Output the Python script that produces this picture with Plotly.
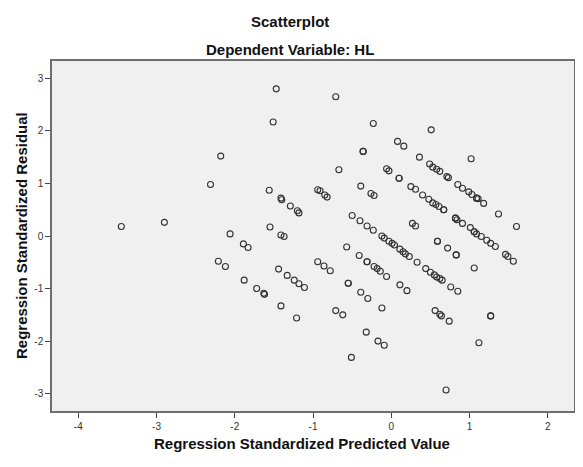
import plotly.graph_objects as go

# standardized predicted value / standardized residual
pred = [-3.45, -2.90, -2.31, -2.18, -2.06, -1.89, -1.83, -2.21, -2.12, -1.88,
        -1.47, -0.71, -1.51, -0.23, 0.08, -0.36, -0.36, -0.67, -0.06, -0.03, 0.10, 0.10,
        -1.56, -1.41, -1.40, -1.29, -1.20, -1.18, -0.94, -0.91, -0.85, -0.82,
        -0.39, -0.26, -0.22, -1.55, -1.41, -1.37, -0.50, -0.40, -0.31, -0.23,
        -0.12, -0.09, -0.03, 0.01, 0.04,
        -1.44, -1.33, -1.24, -1.18, -1.11, -1.72, -1.63, -1.62, -1.41, -1.21,
        -0.94, -0.86, -0.78, -0.57, -0.41, -0.31, -0.31, -0.22, -0.18, -0.14, -0.06,
        -0.55, -0.55, -0.39, -0.30, -0.12, -0.71, -0.62, -0.32, -0.17, -0.09, -0.51,
        0.11, 0.15, 0.18, 0.23, 0.33, 0.44, 0.50, 0.55, 0.58, 0.62, 0.65, 0.76, 0.85,
        0.11, 0.20,
        0.51, 0.16, 0.36, 1.02, 0.49, 0.53, 0.58, 0.62, 0.71, 0.73,
        0.85, 0.91, 0.99, 1.03, 1.09, 1.09, 1.11, 1.18, 1.37, 1.60,
        0.25, 0.31, 0.40, 0.48, 0.53, 0.57, 0.61, 0.67, 0.67,
        0.82, 0.82, 0.84, 0.91, 1.01, 1.06, 1.06, 1.09, 1.15, 1.22, 1.27, 1.33,
        0.27, 0.31, 1.46, 1.49, 1.56, 0.59, 0.59, 0.72, 0.83, 0.83, 1.06,
        0.56, 0.62, 0.64, 0.74, 1.27, 1.27, 1.12, 0.70]
resid = [0.18, 0.26, 0.98, 1.52, 0.04, -0.15, -0.22, -0.48, -0.58, -0.84,
         2.80, 2.65, 2.17, 2.14, 1.80, 1.61, 1.61, 1.26, 1.28, 1.24, 1.10, 1.10,
         0.87, 0.72, 0.69, 0.57, 0.48, 0.44, 0.88, 0.86, 0.78, 0.74,
         0.95, 0.81, 0.77, 0.17, 0.02, -0.01, 0.39, 0.29, 0.19, 0.11,
         0.00, -0.04, -0.10, -0.14, -0.17,
         -0.63, -0.75, -0.84, -0.91, -0.98, -1.00, -1.09, -1.11, -1.33, -1.56,
         -0.49, -0.57, -0.66, -0.21, -0.37, -0.49, -0.49, -0.58, -0.62, -0.67, -0.77,
         -0.90, -0.90, -1.07, -1.19, -1.37, -1.42, -1.50, -1.83, -2.00, -2.08, -2.31,
         -0.25, -0.30, -0.34, -0.39, -0.50, -0.62, -0.69, -0.74, -0.78, -0.81, -0.84, -0.97, -1.05,
         -0.93, -1.04,
         2.02, 1.71, 1.50, 1.47, 1.37, 1.31, 1.27, 1.23, 1.13, 1.11,
         0.98, 0.91, 0.84, 0.79, 0.72, 0.72, 0.71, 0.62, 0.42, 0.18,
         0.94, 0.89, 0.78, 0.70, 0.63, 0.60, 0.56, 0.50, 0.50,
         0.34, 0.34, 0.31, 0.24, 0.16, 0.08, 0.08, 0.04, -0.01, -0.08, -0.14, -0.20,
         0.24, 0.19, -0.35, -0.39, -0.48, -0.10, -0.10, -0.23, -0.36, -0.36, -0.61,
         -1.42, -1.49, -1.52, -1.62, -1.52, -1.52, -2.03, -2.93]

xticks = [-4, -3, -2, -1, 0, 1, 2]
xlabels = ["-4", "-3", "-2", "-1", "0", "1", "2"]
yticks = [-3, -2, -1, 0, 1, 2, 3]
ylabels = ["-3", "-2", "-1", "0", "1", "2", "3"]

fnt = "Liberation Sans, Arial, sans-serif"
title_font = dict(family=fnt, size=15, color="#111111")

fig = go.Figure()
fig.add_trace(go.Scatter(x=pred, y=resid, mode="markers",
                         marker=dict(symbol="circle-open", size=6, color="#333333",
                                     line=dict(width=1.1, color="#333333")),
                         showlegend=False))

axis_style = dict(showgrid=False, zeroline=False, showline=True, mirror=True,
                  linecolor="#6e6e6e", linewidth=1.5, ticks="outside", ticklen=5,
                  tickcolor="#444444", tickwidth=1,
                  tickfont=dict(family=fnt, size=10, color="#333333"))

# page body adds 8px around the figure, so the figure is 8px smaller each way
fig.update_layout(
    width=575, height=459,
    margin=dict(l=44, r=7, t=53, b=56),
    paper_bgcolor="white", plot_bgcolor="#f0f0f0",
    xaxis=dict(range=[-4.336, 2.335], tickvals=xticks, ticktext=xlabels, **axis_style),
    yaxis=dict(range=[-3.33, 3.33], tickvals=yticks, ticktext=ylabels, **axis_style),
    annotations=[
        dict(text="<b>Scatterplot</b>", xref="paper", yref="paper", x=(291 - 52) / 524, y=1,
             xanchor="center", yanchor="middle", yshift=40, showarrow=False, font=title_font),
        dict(text="<b>Dependent Variable: HL</b>", xref="paper", yref="paper", x=(291 - 52) / 524, y=1,
             xanchor="center", yanchor="middle", yshift=12, showarrow=False, font=title_font),
        dict(text="<b>Regression Standardized Predicted Value</b>", xref="paper", yref="paper",
             x=(303 - 52) / 524, y=0, xanchor="center", yanchor="middle", yshift=-32,
             showarrow=False, font=title_font),
        dict(text="<b>Regression Standardized Residual</b>", xref="paper", yref="paper",
             x=0, xshift=-31, y=0.5, xanchor="center", yanchor="middle", textangle=-90,
             showarrow=False, font=title_font),
    ],
)

fig.write_html("out.html")
